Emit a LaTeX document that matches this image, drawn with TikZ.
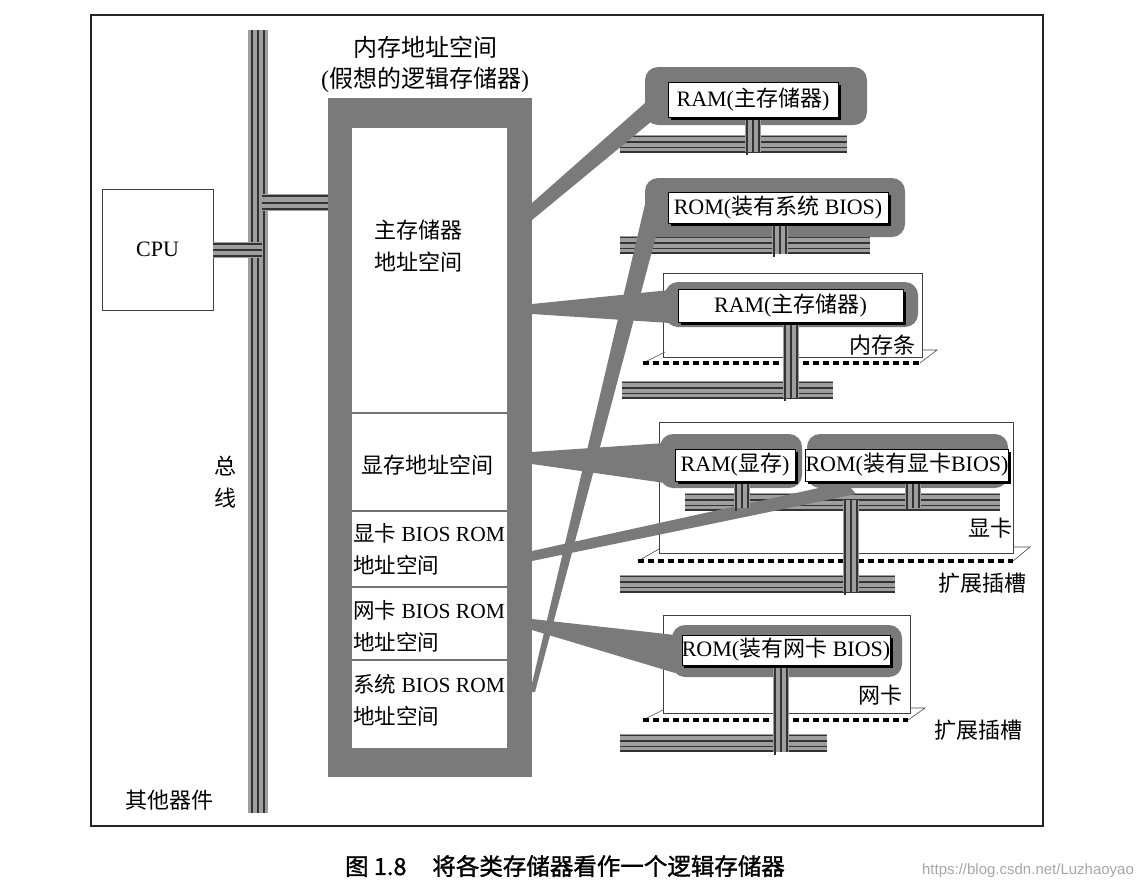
\documentclass[tikz,border=0pt]{standalone}
\usepackage{fontspec}
\setmainfont{Liberation Serif}
\newfontfamily\cjk{Noto Sans CJK SC}
\newfontfamily\cjkcap[FakeBold=1.3]{Noto Sans CJK SC}
\newfontfamily\wmfont{Liberation Sans}
\usetikzlibrary{shadows}
\newcommand\zh[1]{{\cjk #1}}
\definecolor{band}{gray}{0.48}
\definecolor{busg}{gray}{0.62}
\definecolor{busk}{gray}{0.2}
\tikzset{
  every node/.style={inner sep=0pt, font=\fontsize{22}{26}\selectfont},
  blob/.style={fill=band, rounded corners=13pt},
  busline/.style={draw=busk, line width=1.2pt},
  wbox/.style={draw=black, line width=0.6pt, fill=white, inner sep=0pt,
    drop shadow={shadow xshift=2.5pt, shadow yshift=-2.5pt, fill=black, opacity=1}},
  modrect/.style={draw=black!75, line width=0.9pt},
  slotdash/.style={line width=3.6pt, dash pattern=on 6pt off 4pt, draw=black},
  slotedge/.style={draw=black!70, line width=0.6pt},
  divider/.style={draw=black!55, line width=2pt},
  parttext/.style={anchor=west, font=\fontsize{21.5}{26}\selectfont},
}
% horizontal bus: x1, x2, ytop
\newcommand\hbus[3]{%
  \fill[busg] (#1,#3) rectangle (#2,#3+18);
  \foreach \d in {1.5,7,12.5,17} {\draw[busline] (#1,#3+\d) -- (#2,#3+\d);}
}
% vertical stem: xleft, y1, y2
\newcommand\vstem[3]{%
  \fill[busg] (#1,#2) rectangle (#1+16,#3);
  \draw[busline] (#1+2,#2) -- (#1+2,#3+3);
  \draw[busline] (#1+8,#2) -- (#1+8,#3);
  \draw[busline] (#1+14,#2) -- (#1+14,#3);
}
\begin{document}
\begin{tikzpicture}[x=1pt,y=-1pt]
\useasboundingbox (0,0) rectangle (1146,887);
% frame
\draw[draw=black!85, line width=1.6pt, fill=white] (91,15) rectangle (1043,826);

% system bus
\fill[busg] (248,30) rectangle (268,813);
\foreach \x in {252,258,264} {\draw[busline] (\x,30) -- (\x,813);}
% CPU
\node[draw=black!75, line width=0.8pt, fill=white, minimum width=111pt, minimum height=121pt] (cpu) at (157.5,249.5) {CPU};
\fill[busg] (cpu.east |- 0,242) rectangle (262,258);
\foreach \y in {244,250,256} {\draw[busline] (cpu.east |- 0,\y) -- (262,\y);}
% bus to memory
\fill[busg] (262,194) rectangle (328,211);
\foreach \y in {196,203,209} {\draw[busline] (262,\y) -- (328,\y);}

% memory block
\fill[band] (328,98) rectangle (532,777);
\fill[white] (352,128) rectangle (507,748);
\foreach \y in {413,511,587,660} {\draw[divider] (352,\y) -- (507,\y);}
\node[font=\fontsize{24}{28}\selectfont] (t1) at (425,47) {\zh{内存地址空间}};
\node[font=\fontsize{24}{28}\selectfont] (t2) at (425,80) {(\zh{假想的逻辑存储器})};
\node (m1a) at (418,230) {\zh{主存储器}};
\node (m1b) at (418,262) {\zh{地址空间}};
\node (m2) at (427,465) {\zh{显存地址空间}};
\node[parttext] (m3a) at (353,533) {\zh{显卡} BIOS ROM};
\node[parttext] (m3b) at (353,565) {\zh{地址空间}};
\node[parttext] (m4a) at (353,610) {\zh{网卡} BIOS ROM};
\node[parttext] (m4b) at (353,642) {\zh{地址空间}};
\node[parttext] (m5a) at (353,684) {\zh{系统} BIOS ROM};
\node[parttext] (m5b) at (353,716) {\zh{地址空间}};

\node (zong) at (225,466) {\zh{总}};
\node (xian) at (225,498) {\zh{线}};
\node (qita) at (169,800) {\zh{其他器件}};

% ---- module frames, slots, buses
% 1: RAM top
\hbus{620}{847}{135}
% 2: ROM system BIOS
\hbus{620}{870}{236}
% 3: memory stick
\draw[modrect] (663,273) rectangle (922,357);
\draw[slotedge] (643,363) -- (665,352);
\draw[slotedge] (922,350) -- (937,350) -- (920,363);
\draw[slotdash] (643,363) -- (920,363);
\hbus{622}{833}{381}
% 4: graphics card
\draw[modrect] (659,422) rectangle (1013,553);
\draw[slotedge] (638,561) -- (659,549);
\draw[slotedge] (1013,547) -- (1030,547) -- (1013,561);
\draw[slotdash] (638,561) -- (1013,561);
\hbus{620}{895}{575}
\hbus{685}{1000}{493}
% 5: network card
\draw[modrect] (663,615) rectangle (910,713);
\draw[slotedge] (643,720) -- (663,710);
\draw[slotedge] (910,708) -- (925,708) -- (908,720);
\draw[slotdash] (643,720) -- (908,720);
\hbus{620}{827}{734}

% ---- connectors (gray bands)
\fill[band] (532,203) -- (645,103) -- (652,121) -- (532,220) -- cycle;
\fill[band] (532,304) -- (670,290) -- (670,323) -- (532,314) -- cycle;
\fill[band] (532,452) -- (665,443) -- (665,483) -- (532,464) -- cycle;
\fill[band] (532,551) -- (846,482) -- (856,494) -- (532,561) -- cycle;
\fill[band] (532,619) -- (675,635) -- (675,673) -- (532,630) -- cycle;
\fill[band] (530,692) -- (646,200) -- (664,206) -- (535,692) -- cycle;

% ---- blobs
\fill[blob] (645,67) rectangle (867,125);
\fill[blob] (645,178) rectangle (905,237);
\fill[blob] (665,282) rectangle (918,327);
\fill[blob] (660,434) rectangle (802,488);
\fill[blob] (807,434) rectangle (1008,488);
\fill[blob] (672,625) rectangle (902,677);

% ---- stems
\vstem{745}{117}{152}
\vstem{772}{223}{254}
\vstem{783}{322}{398}
\vstem{734}{481}{508}
\vstem{905}{481}{508}
\vstem{843}{500}{592}
\vstem{773}{665}{752}

% ---- white boxes
\node[wbox, minimum width=170pt, minimum height=35pt] (ram1) at (753,99.5) {RAM(\zh{主存储器})};
\node[wbox, minimum width=220pt, minimum height=31pt] (romsys) at (778,207.5) {ROM(\zh{装有系统} BIOS)};
\node[wbox, minimum width=225pt, minimum height=33pt] (ram2) at (790.5,305.5) {RAM(\zh{主存储器})};
\node[wbox, minimum width=120pt, minimum height=32pt] (vram) at (735,465) {RAM(\zh{显存})};
\node[wbox, minimum width=192pt, minimum height=32pt] (vrom) at (907,465) {ROM(\zh{装有显卡}BIOS)};
\node[wbox, minimum width=208pt, minimum height=30pt] (nrom) at (786,650) {ROM(\zh{装有网卡} BIOS)};

% ---- labels
\node (lstick) at (882,345) {\zh{内存条}};
\node (lvga) at (990,528) {\zh{显卡}};
\node (lslot1) at (982,583) {\zh{扩展插槽}};
\node (lnic) at (880,695) {\zh{网卡}};
\node (lslot2) at (978,730) {\zh{扩展插槽}};

% caption
\node[font=\cjkcap\fontsize{23.5}{28}\selectfont] (cap) at (565,866) {图 1.8\hspace{1.1em}将各类存储器看作一个逻辑存储器};
\node[font=\wmfont\fontsize{15}{18}\selectfont, text=black!35] (wm) at (1028,871) {https://blog.csdn.net/Luzhaoyao};
\end{tikzpicture}
\end{document}
